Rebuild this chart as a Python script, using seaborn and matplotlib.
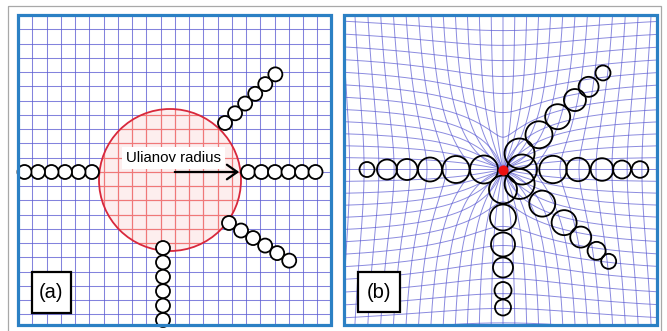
import numpy as np
import matplotlib
matplotlib.use("Agg")
import matplotlib.pyplot as plt
from matplotlib.patches import Circle, Rectangle, FancyArrowPatch
import seaborn as sns
import pandas as pd

# ---------------- data ----------------
# panel (a): rays of equal circles outside the Ulianov radius
rays_a_angle = [180, 0, 44, -32, -90]          # degrees
rays_a_x0 = [92, 248, 225, 229, 163]           # first circle centre
rays_a_y0 = [172, 172, 123, 223, 248]
rays_a_step = [13.5, 13.5, 14.0, 14.2, 14.4]
rays_a_count = [6, 6, 6, 6, 6]
circle_a_radius = 7

ulianov_center = (170, 180)
ulianov_radius = 71

# panel (b): rays of circles after the transformation
rays_b_angle = [180, 0, 44, -41, -90]
rays_b_dist = [
    [19, 47, 73, 96, 116, 136],
    [19, 50, 75, 99, 119, 137],
    [23, 50, 76, 100, 119, 139],
    [22, 52, 81, 103, 124, 140],
    [20, 48, 75, 98, 121, 138],
]
rays_b_rad = [
    [14, 13.5, 12, 10.5, 10, 7.5],
    [15, 13.7, 11.7, 11.3, 9, 8.3],
    [15, 13.5, 12.5, 11, 10, 7.5],
    [15, 13, 12.5, 10.5, 9, 7.5],
    [14, 13, 12, 10, 8.5, 8],
]
center_b = (503, 169.5)

panel_labels = ["(a)", "(b)"]
annotation = "Ulianov radius"

# ---------------- styling ----------------
sns.set_theme(style="white")
plt.rcParams['font.family'] = ['Liberation Sans', 'DejaVu Sans']

W, H = 667, 331
fig = plt.figure(figsize=(W / 100, H / 100), dpi=100)
ax = fig.add_axes([0, 0, 1, 1])
ax.set_xlim(0, W)
ax.set_ylim(H, 0)
ax.axis('off')

GRID_C = '#5a5ad2'
BORDER_C = '#2b80c4'

# outer grey frame
ax.add_patch(Rectangle((8, 6), 653, 340, fill=False, ec='#a8a8a8', lw=0.9, zorder=1))

pa = (18, 15, 313, 310)   # x, y, w, h
pb = (344, 15, 313, 310)

# ---------------- panel (a) ----------------
clip_a = Rectangle(pa[:2], pa[2], pa[3], transform=ax.transData, fill=False, lw=0)
ax.add_patch(clip_a)
fill_c = Circle(ulianov_center, ulianov_radius, fc='#fdeeee', ec='none', zorder=2)
ax.add_patch(fill_c)

step_a = 14.25
xs_a = [pa[0] + step_a * k for k in range(1, 22)]
ys_a = [pa[1] + step_a * k for k in range(1, 22)]
red_clip = Circle(ulianov_center, ulianov_radius, transform=ax.transData, fill=False, lw=0)
ax.add_patch(red_clip)
for x in xs_a:
    l1, = ax.plot([x, x], [pa[1], pa[1] + pa[3]], color=GRID_C, lw=0.75, alpha=0.75, zorder=3)
    l1.set_clip_path(clip_a)
    l2, = ax.plot([x, x], [pa[1], pa[1] + pa[3]], color='#f07878', lw=0.85, zorder=4)
    l2.set_clip_path(red_clip)
for y in ys_a:
    l1, = ax.plot([pa[0], pa[0] + pa[2]], [y, y], color=GRID_C, lw=0.75, alpha=0.75, zorder=3)
    l1.set_clip_path(clip_a)
    l2, = ax.plot([pa[0], pa[0] + pa[2]], [y, y], color='#f07878', lw=0.85, zorder=4)
    l2.set_clip_path(red_clip)
ax.add_patch(Circle(ulianov_center, ulianov_radius, fc='none', ec='#d8283c', lw=1.3, zorder=5))

for ang, x0, y0, st, n in zip(rays_a_angle, rays_a_x0, rays_a_y0, rays_a_step, rays_a_count):
    dx, dy = np.cos(np.radians(ang)), -np.sin(np.radians(ang))
    for k in range(n):
        ax.add_patch(Circle((x0 + dx * st * k, y0 + dy * st * k), circle_a_radius,
                            fc='white', ec='black', lw=1.3, zorder=6))

# annotation
ax.text(173.5, 158, annotation, fontsize=10.8, ha='center', va='center', color='black',
        zorder=8, bbox=dict(boxstyle='square,pad=0.25', fc='white', ec='none'))
ax.add_patch(FancyArrowPatch((172, 172), (242, 172), arrowstyle='->,head_length=5,head_width=3.5',
                             mutation_scale=1.5, color='black', lw=1.6, zorder=8))

ax.add_patch(Rectangle(pa[:2], pa[2], pa[3], fill=False, ec=BORDER_C, lw=2.3, zorder=9))

# ---------------- panel (b) ----------------
clip_b = Rectangle(pb[:2], pb[2], pb[3], transform=ax.transData, fill=False, lw=0)
ax.add_patch(clip_b)
R = 71.0
s_b = 13.0
t = np.linspace(-420, 420, 6001)


def warp(u, v):
    r = np.hypot(u, v)
    rr = np.sqrt(np.clip(r ** 2 - R ** 2, 0, None))
    f = np.where(r > 0, rr / np.maximum(r, 1e-9), 0)
    return center_b[0] + u * f, center_b[1] + v * f


for k in range(-24, 25):
    c = k * s_b
    x, y = warp(np.full_like(t, c), t)
    ln, = ax.plot(x, y, color=GRID_C, lw=0.7, alpha=0.7, zorder=3)
    ln.set_clip_path(clip_b)
    x, y = warp(t, np.full_like(t, c))
    ln, = ax.plot(x, y, color=GRID_C, lw=0.7, alpha=0.7, zorder=3)
    ln.set_clip_path(clip_b)

for ang, dists, rads in zip(rays_b_angle, rays_b_dist, rays_b_rad):
    dx, dy = np.cos(np.radians(ang)), -np.sin(np.radians(ang))
    for d, rad in zip(dists, rads):
        ax.add_patch(Circle((center_b[0] + dx * d, center_b[1] + dy * d), rad,
                            fc='none', ec='black', lw=1.3, zorder=6))

dot = pd.DataFrame({'x': [center_b[0]], 'y': [center_b[1]]})
sns.scatterplot(data=dot, x='x', y='y', ax=ax, color='#ee1010', s=45, marker='o',
                edgecolor='#ee1010', zorder=7, legend=False)
ax.set_xlim(0, W)
ax.set_ylim(H, 0)
ax.axis('off')

ax.add_patch(Rectangle(pb[:2], pb[2], pb[3], fill=False, ec=BORDER_C, lw=2.3, zorder=9))

# ---------------- labels ----------------
for (bx, by, bw, bh), lab in zip([(32, 272, 39, 41), (358, 272, 42, 40)], panel_labels):
    ax.add_patch(Rectangle((bx, by), bw, bh, fc='white', ec='black', lw=1.6, zorder=10))
    ax.text(bx + bw / 2, by + bh / 2 + 0.5, lab, fontsize=14.5, ha='center', va='center',
            color='black', zorder=11)

fig.savefig('out.png', dpi=100, facecolor='white')
